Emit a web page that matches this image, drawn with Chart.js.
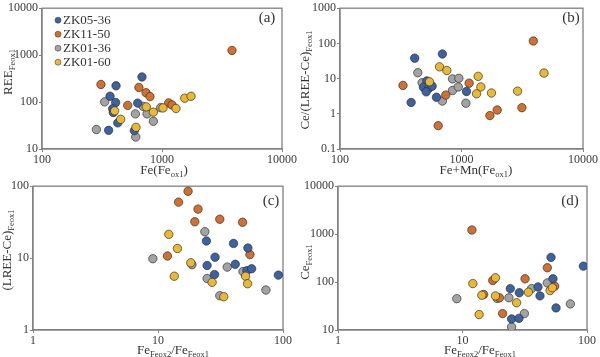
<!DOCTYPE html>
<html><head><meta charset="utf-8">
<script src="https://cdn.jsdelivr.net/npm/chart.js@4.4.1/dist/chart.umd.min.js"></script>
<style>
html,body{margin:0;padding:0;background:#fff;}
#wrap{position:relative;width:600px;height:357px;overflow:hidden;background:#fff;}
.p{position:absolute;}
canvas{display:block;}
</style></head><body>
<div id="wrap">
<div class="p" style="left:0;top:0;width:300px;height:178px"><canvas id="ca" width="300" height="178"></canvas></div>
<div class="p" style="left:300px;top:0;width:300px;height:178px"><canvas id="cb" width="300" height="178"></canvas></div>
<div class="p" style="left:0;top:178px;width:300px;height:179px"><canvas id="cc" width="300" height="179"></canvas></div>
<div class="p" style="left:300px;top:178px;width:300px;height:179px"><canvas id="cd" width="300" height="179"></canvas></div>
</div>
<script>
// ---------- data ----------
const seriesNames = ['ZK05-36', 'ZK11-50', 'ZK01-36', 'ZK01-60'];

// Panel (a): Fe(Fe_ox1) vs REE_Feox1
const a_ZK05_36 = [[681,343],[414,222],[369,133],[411,98],[627,95],[388,72],[393,60],[428,36],[359,25],[588,24.6]];
const a_ZK11_50 = [[310,237],[642,205],[736,158],[794,131],[518,85],[1137,96],[1211,87],[3831,1259]];
const a_ZK01_36 = [[333,101],[284,26],[600,56],[695,81],[750,56],[847,39],[975,76],[604,18]];
const a_ZK01_60 = [[403,65],[453,43],[607,29],[740,79],[847,61],[1019,75],[1308,73],[1546,121],[1745,133]];

// Panel (b): Fe+Mn(Fe_ox1) vs Ce/(LREE-Ce)_Feox1
const b_ZK05_36 = [[412,38],[696,50],[385,2.1],[518,8.6],[486,5.7],[538,5.3],[573,6.1],[512,4.2],[622,2.95],[1099,4.3]];
const b_ZK11_50 = [[330,6.4],[3900,117],[743,3.4],[643,0.46],[1156,7.4],[1713,0.89],[1967,1.28],[3141,1.49]];
const b_ZK01_36 = [[437,14.7],[474,7.6],[843,9.8],[951,10.2],[843,4.6],[940,5.8],[696,2.3],[1087,2.0]];
const b_ZK01_60 = [[659,21.6],[757,17],[545,8.1],[1371,11.6],[1443,5.8],[1330,3.7],[1765,3.9],[2895,4.4],[4775,14.4]];

// Panel (c): Fe_Feox2/Fe_Feox1 vs (LREE-Ce)_Feox1
const c_ZK05_36 = [[24.4,17.3],[40.2,16],[52.4,13.8],[28.6,10.3],[24.7,7.9],[41.5,8.2],[51.4,6.7],[56.1,7.1],[28.3,5.9],[91.8,5.8]];
const c_ZK11_50 = [[17.4,85],[14.6,60],[20.9,48],[19.7,32],[31.2,34.7],[47.5,31.5],[11.9,10.7],[54.4,11.2]];
const c_ZK01_36 = [[9.1,9.8],[23.7,23.3],[18.7,8.1],[35.8,7.5],[47.8,6.5],[24.7,5.2],[31.2,3.0],[73,3.6]];
const c_ZK01_60 = [[12.2,21.4],[14.3,13.6],[18.3,8.6],[13.5,5.6],[27.1,4.6],[50.2,5.6],[52.1,4.4],[33.6,2.9]];

// Panel (d): Fe_Feox2/Fe_Feox1 vs Ce_Feox1
const d_ZK05_36 = [[51.4,327],[93.5,215],[53.3,117],[24.2,73],[40.4,79],[28.6,60],[41.9,51.5],[56.4,28.9],[24.8,17],[28.4,17.5]];
const d_ZK11_50 = [[11.9,1218],[48,199],[17.5,108],[31.8,117],[55,82],[19.8,47],[21,22],[14.8,55]];
const d_ZK01_36 = [[9,45],[19,45.5],[23.6,47],[35.9,73],[48,96],[31.4,22],[24.8,11.6],[73.5,35]];
const d_ZK01_60 = [[18.4,123],[12.1,93],[14.3,53],[18.4,51.5],[13.6,21],[27.2,37],[33.8,61.5],[50.5,66.5],[52.7,76]];

// tick values
const a_xTicks = [100, 1000, 10000];
const a_yTicks = [10, 100, 1000, 10000];
const b_xTicks = [100, 1000, 10000];
const b_yTicks = [0.1, 1, 10, 100, 1000];
const c_xTicks = [1, 10, 100];
const c_yTicks = [1, 10, 100];
const d_xTicks = [1, 10, 100];
const d_yTicks = [10, 100, 1000, 10000];

// ---------- style ----------
const SERIF = '"Liberation Serif","Times New Roman",serif';
const fills = ['#3c62a2', '#d2702f', '#a3a3a3', '#eab832'];
const drawOrder = [1, 2, 3, 0];

function drawRich(ctx, parts, cx, cy, size, subSize) {
  let w = 0;
  for (const [t, s] of parts) { ctx.font = (s ? subSize : size) + 'px ' + SERIF; w += ctx.measureText(t).width; }
  let x = cx - w / 2;
  const base = cy + size * 0.33;
  ctx.textAlign = 'left';
  ctx.textBaseline = 'alphabetic';
  for (const [t, s] of parts) {
    ctx.font = (s ? subSize : size) + 'px ' + SERIF;
    ctx.fillText(t, x, s ? base + size * 0.22 : base);
    x += ctx.measureText(t).width;
  }
}

const deco = {
  id: 'deco',
  beforeDatasetsDraw(chart, args, o) {
    const {ctx, chartArea: c} = chart;
    ctx.save();
    ctx.strokeStyle = '#808080';
    ctx.lineWidth = 1.3;
    ctx.strokeRect(c.left, c.top, c.right - c.left, c.bottom - c.top);
    ctx.restore();
  },
  afterDraw(chart, args, o) {
    const ctx = chart.ctx;
    ctx.save();
    ctx.fillStyle = '#333';
    drawRich(ctx, o.xTitle, o.xPos[0], o.xPos[1], 13, 8.5);
    ctx.save();
    ctx.translate(o.yPos[0], o.yPos[1]);
    ctx.rotate(-Math.PI / 2);
    drawRich(ctx, o.yTitle, 0, 0, 13, 8.5);
    ctx.restore();
    ctx.font = '15px ' + SERIF;
    ctx.textAlign = 'center';
    ctx.textBaseline = 'middle';
    ctx.fillText(o.label, o.labelPos[0], o.labelPos[1]);
    if (o.legend) {
      const c = chart.chartArea;
      chart.data.datasets.forEach((ds, i) => {
        const y = c.top + 12 + i * 14;
        ctx.beginPath();
        ctx.arc(c.left + 16, y, 3, 0, Math.PI * 2);
        ctx.fillStyle = ds.backgroundColor;
        ctx.fill();
        ctx.lineWidth = 0.6;
        ctx.strokeStyle = '#444';
        ctx.stroke();
        ctx.fillStyle = '#333';
        ctx.font = '13px ' + SERIF;
        ctx.textAlign = 'left';
        ctx.textBaseline = 'middle';
        ctx.fillText(ds.label, c.left + 21, y + 0.5);
      });
    }
    ctx.restore();
  }
};

function logAxis(min, max, ticks, size, horiz) {
  return {
    type: 'logarithmic', min: min, max: max,
    afterBuildTicks: s => { s.ticks = ticks.map(v => ({value: v})); },
    afterFit: s => { if (horiz) s.height = size; else s.width = size; },
    ticks: {
      callback: v => String(v), font: {family: SERIF, size: 12}, color: '#3a3a3a',
      padding: 1, maxRotation: 0, autoSkip: false
    },
    grid: {drawOnChartArea: false, drawTicks: true, tickLength: 3, color: '#808080'},
    border: {color: '#808080', width: 1.3}
  };
}

function makeChart(id, series, xr, yr, xT, yT, yW, xH, pad, decoOpts) {
  const datasets = series.map((pts, i) => ({
    label: seriesNames[i],
    data: pts.map(p => ({x: p[0], y: p[1]})),
    backgroundColor: fills[i],
    borderColor: 'rgba(45,45,45,0.85)',
    borderWidth: 0.8,
    pointRadius: 4.2,
    order: drawOrder[i]
  }));
  new Chart(document.getElementById(id), {
    type: 'scatter',
    data: {datasets},
    plugins: [deco],
    options: {
      responsive: false, animation: false, events: [],
      layout: {padding: pad},
      plugins: {legend: {display: false}, tooltip: {enabled: false}, deco: decoOpts},
      scales: {
        x: logAxis(xr[0], xr[1], xT, xH, true),
        y: logAxis(yr[0], yr[1], yT, yW, false)
      }
    }
  });
}

makeChart('ca', [a_ZK05_36, a_ZK11_50, a_ZK01_36, a_ZK01_60], [100, 10000], [10, 10000], a_xTicks, a_yTicks,
  42, 29, {top: 6, right: 18, left: 0, bottom: 0},
  {xTitle: [['Fe(Fe', 0], ['ox1', 1], [')', 0]], xPos: [164, 170],
   yTitle: [['REE', 0], ['Feox1', 1]], yPos: [8, 72], label: '(a)', labelPos: [267, 18], legend: true});

makeChart('cb', [b_ZK05_36, b_ZK11_50, b_ZK01_36, b_ZK01_60], [100, 10000], [0.1, 1000], b_xTicks, b_yTicks,
  40, 29, {top: 6, right: 17, left: 0, bottom: 0},
  {xTitle: [['Fe+Mn(Fe', 0], ['ox1', 1], [')', 0]], xPos: [176, 170],
   yTitle: [['Ce/(LREE-Ce)', 0], ['Feox1', 1]], yPos: [5, 80], label: '(b)', labelPos: [271, 18], legend: false});

makeChart('cc', [c_ZK05_36, c_ZK11_50, c_ZK01_36, c_ZK01_60], [1, 100], [1, 100], c_xTicks, c_yTicks,
  33, 27, {top: 8, right: 17, left: 0, bottom: 0},
  {xTitle: [['Fe', 0], ['Feox2', 1], ['/Fe', 0], ['Feox1', 1]], xPos: [173, 172],
   yTitle: [['(LREE-Ce)', 0], ['Feox1', 1]], yPos: [7, 72], label: '(c)', labelPos: [271, 23], legend: false});

makeChart('cd', [d_ZK05_36, d_ZK11_50, d_ZK01_36, d_ZK01_60], [1, 100], [10, 10000], d_xTicks, d_yTicks,
  38, 27, {top: 8, right: 13, left: 0, bottom: 0},
  {xTitle: [['Fe', 0], ['Feox2', 1], ['/Fe', 0], ['Feox1', 1]], xPos: [180, 172],
   yTitle: [['Ce', 0], ['Feox1', 1]], yPos: [5, 84], label: '(d)', labelPos: [270, 23], legend: false});
</script>
</body></html>
